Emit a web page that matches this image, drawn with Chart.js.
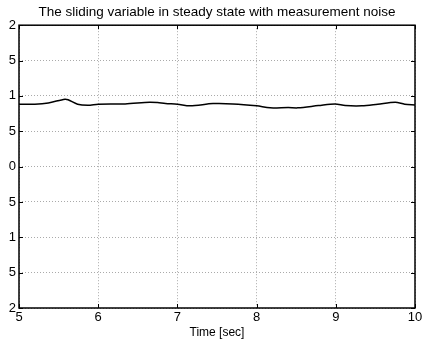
<!DOCTYPE html>
<html>
<head>
<meta charset="utf-8">
<script src="https://cdn.jsdelivr.net/npm/chart.js@4.4.0/dist/chart.umd.min.js"></script>
<style>
  html, body { margin: 0; padding: 0; background: #fff; }
</style>
</head>
<body>
<canvas id="chart" width="422" height="339"></canvas>
<script>
const times   = [5.0, 5.2, 5.37, 5.58, 5.62, 5.74, 5.87, 6.0, 6.34, 6.65, 6.75, 6.85, 7.0, 7.16, 7.45, 7.7,
                 8.0, 8.17, 8.4, 8.52, 8.78, 8.99, 9.12, 9.33, 9.53, 9.75, 9.87, 10.0];
const sliding = [0.00883, 0.00883, 0.00901, 0.00953, 0.00945, 0.00883, 0.00869, 0.00883, 0.00887, 0.00911,
                 0.00905, 0.00891, 0.00883, 0.00859, 0.00891, 0.00887, 0.00859, 0.00831, 0.00835, 0.00831,
                 0.00863, 0.00887, 0.00863, 0.00859, 0.00883, 0.00911, 0.00883, 0.00873];
const yTickLabels = ['2', '5', '1', '5', '0', '5', '1', '5', '2'];   // clipped labels as shown
const xTickLabels = ['5', '6', '7', '8', '9', '10'];

const font = 'Liberation Sans, Arial, sans-serif';

// — Black box round the plot plus inward tick marks —
const boxPlugin = {
  id: 'box',
  afterDraw(chart) {
    const { ctx, chartArea: a, scales: { x, y } } = chart;
    ctx.save();
    ctx.strokeStyle = '#000';
    ctx.lineWidth = 1;
    x.ticks.forEach(t => {
      const px = Math.round(x.getPixelForValue(t.value)) + 0.5;
      ctx.beginPath();
      ctx.moveTo(px, a.bottom); ctx.lineTo(px, a.bottom - 4);
      ctx.moveTo(px, a.top);    ctx.lineTo(px, a.top + 4);
      ctx.stroke();
    });
    y.ticks.forEach(t => {
      const py = Math.round(y.getPixelForValue(t.value)) + 0.5;
      ctx.beginPath();
      ctx.moveTo(a.left, py);  ctx.lineTo(a.left + 4, py);
      ctx.moveTo(a.right, py); ctx.lineTo(a.right - 4, py);
      ctx.stroke();
    });
    ctx.lineWidth = 1.5;
    ctx.strokeRect(a.left, a.top, a.right - a.left, a.bottom - a.top);
    ctx.restore();
  }
};

new Chart(document.getElementById('chart'), {
  type: 'line',
  data: {
    datasets: [{
      data: times.map((t, i) => ({ x: t, y: sliding[i] })),
      borderColor: '#000',
      borderWidth: 1.5,
      pointRadius: 0,
      tension: 0.3,
      fill: false
    }]
  },
  options: {
    responsive: false,
    animation: false,
    devicePixelRatio: 1,
    layout: { padding: { left: 0, right: 7, top: 0, bottom: 0 } },
    plugins: {
      legend: { display: false },
      tooltip: { enabled: false },
      title: {
        display: true,
        fullSize: false,
        text: 'The sliding variable in steady state with measurement noise',
        color: '#000',
        font: { family: font, size: 13.5, weight: 'normal' },
        padding: { top: 4, bottom: 5 }
      }
    },
    scales: {
      x: {
        type: 'linear',
        min: 5, max: 10,
        ticks: {
          stepSize: 1,
          color: '#000',
          font: { family: font, size: 13 },
          padding: 2,
          maxRotation: 0,
          callback: (v, i) => xTickLabels[i]
        },
        grid: { color: '#aaa', lineWidth: 1, drawTicks: false },
        border: { display: false, dash: [1, 2] },
        title: {
          display: true,
          text: 'Time [sec]',
          color: '#000',
          font: { family: font, size: 12 },
          padding: { top: 0, bottom: -1 }
        },
        afterFit(scale) { scale.height = 31; scale.paddingRight = 3; }
      },
      y: {
        min: -0.02, max: 0.02,
        ticks: {
          stepSize: 0.005,
          color: '#000',
          font: { family: font, size: 13 },
          padding: 3,
          callback: (v, i) => yTickLabels[i]
        },
        grid: { color: '#aaa', lineWidth: 1, drawTicks: false },
        border: { display: false, dash: [1, 2] },
        afterFit(scale) { scale.width = 19; }
      }
    }
  },
  plugins: [boxPlugin]
});
</script>
</body>
</html>
